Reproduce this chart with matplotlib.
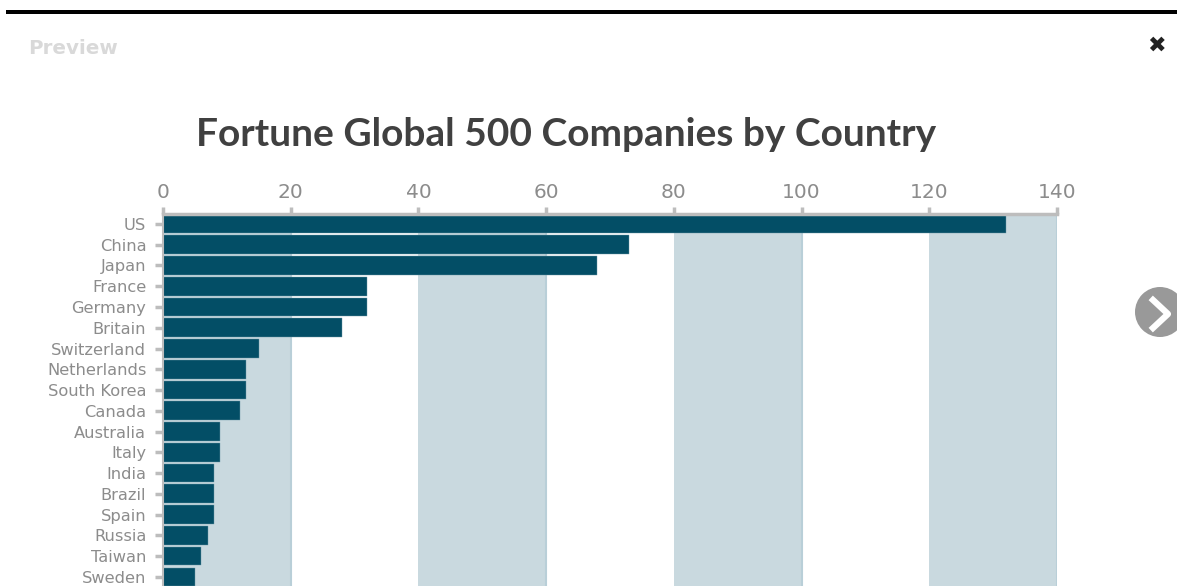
import matplotlib
matplotlib.use("Agg")
import matplotlib.pyplot as plt
from matplotlib.patches import Circle

countries = ["US", "China", "Japan", "France", "Germany", "Britain", "Switzerland",
             "Netherlands", "South Korea", "Canada", "Australia", "Italy", "India",
             "Brazil", "Spain", "Russia", "Taiwan", "Sweden"]
companies = [132, 73, 68, 32, 32, 28, 15, 13, 13, 12, 9, 9, 8, 8, 8, 7, 6, 5]
x_ticks = [0, 20, 40, 60, 80, 100, 120, 140]
bands = [(0, 20), (40, 60), (80, 100), (120, 140)]

W, H = 1177, 586
GREY = "#8c8c8c"

fig = plt.figure(figsize=(W / 100, H / 100), dpi=100, facecolor="white")

# chart area runs off the bottom of the screenshot
left, right, top = 163, 1057, 214
ax = fig.add_axes([left / W, 0, (right - left) / W, (H - top) / H])

for start, end in bands:
    ax.axvspan(start, end, color="#c9d9df", lw=0, zorder=1)
    ax.axvline(end, color="#b9cfd8", lw=1.5, zorder=1.5)

ax.barh(range(len(countries)), companies, height=0.9, color="#034e66",
        edgecolor="#6d97a6", linewidth=0.3, zorder=2)

ax.set_xlim(0, 140)
ax.set_ylim(17.44, -0.48)
ax.xaxis.tick_top()
ax.set_xticks(x_ticks)
ax.set_yticks(range(len(countries)))
ax.set_yticklabels(countries)
ax.tick_params(axis="x", length=5, width=2.5, color="#bdbdbd", labelcolor=GREY,
               labelsize=14.5, pad=4)
ax.tick_params(axis="y", length=6, width=2.5, color="#bdbdbd", labelcolor=GREY,
               labelsize=11.7, pad=6)
for side in ["right", "bottom"]:
    ax.spines[side].set_visible(False)
ax.spines["top"].set_color("#bdbdbd")
ax.spines["top"].set_linewidth(2.5)
ax.spines["left"].set_color("#bdbdbd")
ax.spines["left"].set_linewidth(1.5)

# popup furniture, placed in screenshot pixels
over = fig.add_axes([0, 0, 1, 1], facecolor="none")
over.set_xlim(0, W)
over.set_ylim(H, 0)
over.axis("off")
over.axhspan(10, 14, xmin=6 / W, xmax=1, color="black", lw=0)
over.text(28, 48, "Preview", fontsize=14.3, fontweight="bold", color="#d9d9d9",
          family="DejaVu Sans", va="center")
over.text(1156, 46, "\u2716", fontsize=16, color="#222222", family="DejaVu Sans",
          ha="center", va="center")
over.add_patch(Circle((1160, 312), 25, color="#999999", lw=0))
over.plot([1153, 1168, 1153], [300, 314, 328], color="white", lw=4.5)
over.text(566, 134, "Fortune Global 500 Companies by Country", fontsize=28,
          fontweight="bold", color="#404040", family="Lato",
          ha="center", va="center")

fig.savefig("out.png", dpi=100)
